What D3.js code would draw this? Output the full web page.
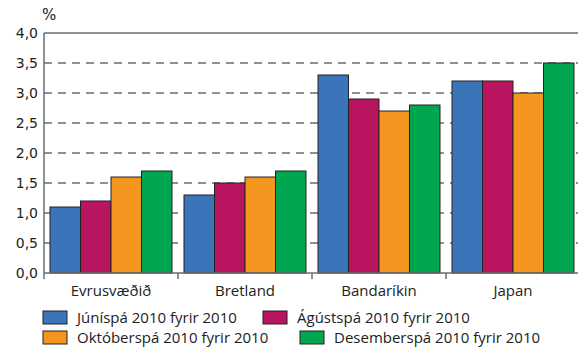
<!DOCTYPE html>
<html><head><meta charset="utf-8">
<script src="https://cdn.jsdelivr.net/npm/d3@7"></script>
<style>body{margin:0;background:#fff}svg{display:block}</style>
</head><body>
<script>
const categories = ["Evrusvæðið","Bretland","Bandaríkin","Japan"];
const seriesNames = ["Júníspá 2010 fyrir 2010","Ágústspá 2010 fyrir 2010","Októberspá 2010 fyrir 2010","Desemberspá 2010 fyrir 2010"];
const juni = [1.1,1.3,3.3,3.2];
const agust = [1.2,1.5,2.9,3.2];
const oktober = [1.6,1.6,2.7,3.0];
const desember = [1.7,1.7,2.8,3.5];
const colors = ["#3a75ba","#b9145f","#f4951f","#00a650"];
const yTicks = [0,0.5,1,1.5,2,2.5,3,3.5,4];
const series = [juni,agust,oktober,desember];

const W=578,H=347;
const svg=d3.select("body").append("svg").attr("width",W).attr("height",H);
const x0=d3.scaleBand().domain(categories).range([44,580]).padding(0);
const x1=d3.scaleBand().domain(d3.range(4)).range([6,x0.bandwidth()-6]).padding(0);
const y=d3.scaleLinear().domain([0,4]).range([273,33]);
const fmt=d=>d.toFixed(1).replace(".",",");

svg.append("g").selectAll("line").data(yTicks.filter(d=>d>0&&d<4)).join("line")
  .attr("x1",44).attr("x2",578).attr("y1",d=>y(d)).attr("y2",d=>y(d))
  .attr("stroke","#6d6d6d").attr("stroke-width",1.5).attr("stroke-dasharray","8,6");
svg.append("line").attr("x1",44).attr("x2",578).attr("y1",y(4)).attr("y2",y(4))
  .attr("stroke","#6d6d6d").attr("stroke-width",1.5);

const g=svg.append("g").selectAll("g").data(categories).join("g")
  .attr("transform",c=>`translate(${x0(c)},0)`);
g.selectAll("rect").data((c,i)=>series.map((s,j)=>({j,v:s[i]}))).join("rect")
  .attr("x",d=>x1(d.j)).attr("width",x1.bandwidth())
  .attr("y",d=>y(d.v)).attr("height",d=>y(0)-y(d.v))
  .attr("fill",d=>colors[d.j]).attr("stroke","#222").attr("stroke-width",1);

const ya=svg.append("g").attr("transform","translate(44,0)")
  .call(d3.axisLeft(y).tickValues(yTicks).tickFormat(fmt).tickSize(0).tickPadding(6));
ya.select(".domain").remove();
ya.selectAll("text").attr("font-family","DejaVu Sans").attr("font-size",14).attr("fill","#222");
svg.append("line").attr("x1",44).attr("x2",44).attr("y1",y(4)).attr("y2",y(0)+6)
  .attr("stroke","#6d6d6d").attr("stroke-width",1.5);
svg.append("line").attr("x1",44).attr("x2",578).attr("y1",y(0)).attr("y2",y(0))
  .attr("stroke","#6d6d6d").attr("stroke-width",1.5);
svg.append("g").selectAll("line").data(categories.slice(1)).join("line")
  .attr("x1",c=>x0(c)).attr("x2",c=>x0(c)).attr("y1",y(0)).attr("y2",y(0)+6)
  .attr("stroke","#6d6d6d").attr("stroke-width",1.5);
svg.append("g").selectAll("text").data(categories).join("text")
  .attr("x",c=>x0(c)+x0.bandwidth()/2).attr("y",y(0)+23).attr("text-anchor","middle")
  .attr("font-family","Open Sans").attr("font-size",15).attr("fill","#222").text(c=>c);
svg.append("text").attr("x",42).attr("y",20).attr("font-family","DejaVu Sans").attr("font-size",15)
  .attr("fill","#222").text("%");

const legPos=[[43,318],[263,318],[43,338],[300,338]];
const lg=svg.append("g").selectAll("g").data(seriesNames).join("g")
  .attr("transform",(d,i)=>`translate(${legPos[i][0]},${legPos[i][1]})`);
lg.append("rect").attr("x",0).attr("y",-7).attr("width",24).attr("height",13)
  .attr("fill",(d,i)=>colors[i]).attr("stroke","#222").attr("stroke-width",1);
lg.append("text").attr("x",34).attr("y",5).attr("font-family","Open Sans")
  .attr("font-size",15).attr("fill","#222").text(d=>d);
</script>
</body></html>
